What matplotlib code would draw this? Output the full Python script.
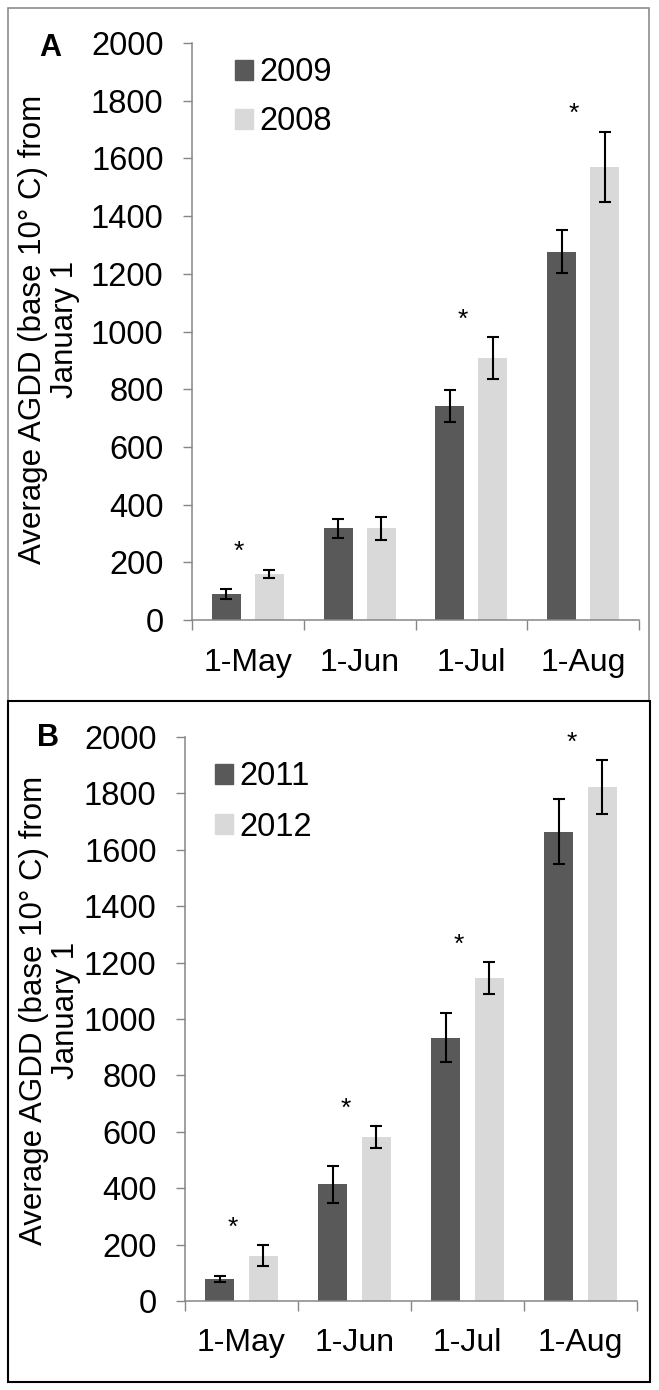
import numpy as np
import matplotlib
matplotlib.use("Agg")
import matplotlib.pyplot as plt
from matplotlib.patches import Rectangle, Patch

plt.rcParams['font.family'] = ['Liberation Sans', 'DejaVu Sans']

# data (AGDD, base 10 C, from Jan 1)
months = ['1-May', '1-Jun', '1-Jul', '1-Aug']

# panel A
years_A = ['2009', '2008']
agdd_2009 = [90, 318, 742, 1277]
err_2009 = [17, 33, 55, 75]
agdd_2008 = [160, 318, 908, 1570]
err_2008 = [15, 40, 72, 121]
sig_A = [True, False, True, True]

# panel B
years_B = ['2011', '2012']
agdd_2011 = [78, 414, 933, 1664]
err_2011 = [12, 66, 87, 115]
agdd_2012 = [161, 582, 1145, 1822]
err_2012 = [37, 39, 56, 95]
sig_B = [True, True, True, True]

ylabel = "Average AGDD (base 10\u00b0 C) from\nJanuary 1"

W, H = 659, 1390
dark = '#595959'
light = '#d9d9d9'
spine_c = '#868686'


def box(l, t, r, b):
    return [l / W, 1 - b / H, (r - l) / W, (b - t) / H]


def draw_panel(ax, v1, e1, v2, e2, sig, years, xpad):
    x = np.arange(len(months))
    w = 0.26
    off = 0.192
    ekw = dict(ecolor='black', elinewidth=1.5, capsize=4, capthick=1.5)
    ax.bar(x - off, v1, w, color=dark, yerr=e1, error_kw=ekw, zorder=2)
    ax.bar(x + off, v2, w, color=light, yerr=e2, error_kw=ekw, zorder=2)
    # significance marks
    for i in range(len(months)):
        if sig[i]:
            top = max(v1[i] + e1[i], v2[i] + e2[i])
            ax.text(x[i] - 0.08, top + 62, '*', ha='center', va='center', fontsize=19)

    ax.set_ylim(0, 2000)
    ax.set_yticks(range(0, 2001, 200))
    ax.set_xlim(-0.5, 3.5)
    ax.set_xticks(np.arange(-0.5, 4, 1.0))
    ax.set_xticklabels([])
    ax.set_xticks(x, minor=True)
    ax.set_xticklabels(months, minor=True)

    ax.tick_params(axis='y', length=6.5, width=1, color=spine_c, pad=14, labelsize=23.5)
    ax.tick_params(axis='x', which='major', length=7, width=1, color=spine_c)
    ax.tick_params(axis='x', which='minor', length=0, pad=xpad, labelsize=23)

    for s in ['top', 'right']:
        ax.spines[s].set_visible(False)
    for s in ['left', 'bottom']:
        ax.spines[s].set_color(spine_c)
        ax.spines[s].set_linewidth(1.1)

    handles = [Patch(color=dark, label=years[0]), Patch(color=light, label=years[1])]
    return handles


fig = plt.figure(figsize=(W / 100, H / 100), dpi=100)

axA = fig.add_axes(box(192, 43, 639, 620))
hA = draw_panel(axA, agdd_2009, err_2009, agdd_2008, err_2008, sig_A, years_A, 20)
axA.legend(handles=hA, loc='upper left', bbox_to_anchor=(0.096, 0.975), frameon=False,
           fontsize=23.5, handlelength=0.55, handleheight=0.55, handletextpad=0.2,
           labelspacing=0.55, borderpad=0, borderaxespad=0)

axB = fig.add_axes(box(185, 737, 637, 1301))
hB = draw_panel(axB, agdd_2011, err_2011, agdd_2012, err_2012, sig_B, years_B, 19.5)
axB.legend(handles=hB, loc='upper left', bbox_to_anchor=(0.066, 0.957), frameon=False,
           fontsize=23.5, handlelength=0.55, handleheight=0.55, handletextpad=0.2,
           labelspacing=0.6, borderpad=0, borderaxespad=0)

# y labels
fig.text(49 / W, 1 - 329 / H, ylabel, rotation=90, ha='center', va='center',
         multialignment='center', fontsize=22.5, linespacing=1.1)
fig.text(50 / W, 1 - 1010 / H, ylabel, rotation=90, ha='center', va='center',
         multialignment='center', fontsize=22.5, linespacing=1.1)

# panel tags
fig.text(50 / W, 1 - 48 / H, 'A', fontsize=22, fontweight='bold', ha='center', va='center')
fig.text(48 / W, 1 - 738 / H, 'B', fontsize=22, fontweight='bold', ha='center', va='center')

# panel frames
fig.patches.append(Rectangle((8 / W, 1 - 701 / H), (649 - 8) / W, (701 - 8) / H,
                             transform=fig.transFigure, fill=False, edgecolor='#8c8c8c', lw=1.2))
fig.patches.append(Rectangle((8 / W, 1 - 1382 / H), (650 - 8) / W, (1382 - 701) / H,
                             transform=fig.transFigure, fill=False, edgecolor='black', lw=1.5))

fig.savefig('out.png', dpi=100)
